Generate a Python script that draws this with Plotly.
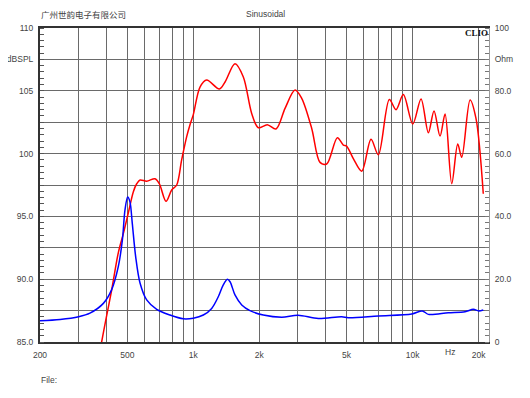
import math
import plotly.graph_objects as go

# ---- data ----
spl_freq = [360, 382, 399, 424, 455, 480, 505, 533, 552, 572, 613, 669, 700, 751, 797, 840,
            885, 933, 966, 1000, 1073, 1151, 1315, 1396, 1549, 1691, 1846, 1979, 2175, 2384,
            2620, 2910, 3121, 3467, 3783, 4058, 4537, 4832, 5000, 5366, 5862, 6461, 6977,
            7832, 8400, 9072, 10016, 10925, 11795, 12520, 13340, 14060, 15080, 16060, 16750,
            18280, 19450, 21000]
spl_db = [82.6, 85.0, 86.75, 89.1, 92.1, 93.65, 95.25, 96.97, 97.6, 97.9, 97.8, 98.0, 97.6,
          96.2, 97.1, 97.5, 99.5, 101.35, 102.3, 103.1, 105.3, 105.86, 105.14, 105.7, 107.15,
          106.1, 103.2, 102.06, 102.3, 101.96, 103.6, 105.06, 104.4, 102.0, 99.3, 99.17,
          101.27, 100.68, 100.6, 99.6, 98.6, 101.14, 99.9, 104.3, 103.5, 104.7, 102.36,
          104.35, 101.66, 103.4, 101.4, 103.15, 97.6, 100.76, 99.7, 104.27, 102.8, 96.8]

imp_freq = [200, 247, 300, 338, 389, 424, 455, 475, 488, 502, 514, 527, 546, 572, 613, 681,
            783, 900, 1000, 1111, 1213, 1300, 1370, 1430, 1471, 1549, 1663, 1813, 2085, 2530,
            3000, 3717, 4750, 5090, 6977, 9910, 11075, 11795, 14550, 17340, 18920, 20000,
            21000]
imp_ohm = [6.8, 7.2, 8.07, 9.2, 12.3, 16.6, 24.0, 32.5, 42.0, 46.2, 44.7, 37.8, 27.2, 18.7,
           13.4, 10.4, 8.6, 7.4, 7.6, 8.6, 10.7, 14.4, 18.2, 20.0, 19.2, 15.0, 11.8, 10.0,
           8.6, 7.9, 8.5, 7.5, 8.07, 7.75, 8.3, 8.9, 9.9, 8.8, 9.3, 9.65, 10.4, 9.9, 10.2]

x_grid = [200, 300, 400, 500, 600, 700, 800, 900, 1000, 2000, 3000, 4000, 5000, 6000, 7000,
          8000, 9000, 10000, 20000]
x_labels = ["200", "", "", "500", "", "", "", "", "1k", "2k", "", "", "5k", "", "", "", "",
            "10k", "20k"]
left_vals = [85, 87.5, 90, 92.5, 95, 97.5, 100, 102.5, 105, 107.5, 110]
left_labels = ["85.0", "", "90.0", "", "95.0", "", "100", "", "105", "dBSPL", "110"]
right_vals = [0, 10, 20, 30, 40, 50, 60, 70, 80, 90, 100]
right_labels = ["0", "", "20.0", "", "40.0", "", "60.0", "", "80.0", "Ohm", "100"]

# ---- layout geometry (page pixels; the page body has an 8px default margin) ----
OFF = 8
W, H = 530 - OFF, 398 - OFF
L, R, T, B = 40, 489, 28, 342          # plot area in page coordinates
PW, PH = R - L, B - T


def px(x):
    return (x - L) / PW


def py(y):
    return (B - y) / PH


txt = "#444444"
FONT = "Liberation Sans"

fig = go.Figure()
fig.add_trace(go.Scatter(x=spl_freq, y=spl_db, mode="lines",
                         line=dict(color="#ff0000", width=1.5, shape="spline", smoothing=0.9),
                         yaxis="y", showlegend=False, hoverinfo="skip"))
fig.add_trace(go.Scatter(x=imp_freq, y=imp_ohm, mode="lines",
                         line=dict(color="#0000ff", width=1.5, shape="spline", smoothing=0.9),
                         yaxis="y2", showlegend=False, hoverinfo="skip"))

fig.update_layout(
    template="none",
    width=W, height=H,
    margin=dict(l=L - OFF, r=W - (R - OFF), t=T - OFF, b=H - (B - OFF), pad=0,
                autoexpand=False),
    paper_bgcolor="white", plot_bgcolor="white",
    font=dict(family=FONT, size=8.5, color=txt),
    xaxis=dict(type="log", range=[math.log10(200), math.log10(22300)], automargin=False,
               tickmode="array", tickvals=x_grid, ticktext=x_labels,
               showgrid=True, gridcolor="#6a6a6a", gridwidth=1,
               showline=True, linecolor="#333333", linewidth=2, mirror=True,
               ticks="", ticklabelstandoff=4, zeroline=False,
               tickfont=dict(family=FONT, size=8.5, color=txt)),
    yaxis=dict(range=[85, 110], automargin=False, tickmode="array", tickvals=left_vals,
               ticktext=left_labels,
               showgrid=True, gridcolor="#6a6a6a", gridwidth=1,
               showline=True, linecolor="#333333", linewidth=2,
               ticks="", ticklabelstandoff=3, zeroline=False,
               minor=dict(ticks="inside", dtick=0.5, tick0=85, ticklen=4,
                          tickcolor="#555555", showgrid=False),
               tickfont=dict(family=FONT, size=8.5, color=txt)),
    yaxis2=dict(range=[0, 100], overlaying="y", side="right", anchor="x", automargin=False,
                tickmode="array", tickvals=right_vals, ticktext=right_labels,
                showgrid=False, showline=True, linecolor="#9a9a9a", linewidth=1,
                ticks="", ticklabelstandoff=3, zeroline=False,
                minor=dict(ticks="inside", dtick=2, tick0=0, ticklen=4,
                           tickcolor="#777777", showgrid=False),
                tickfont=dict(family=FONT, size=8.5, color=txt)),
)

annots = [
    dict(text="广州世韵电子有限公司", x=px(40), y=py(14), xanchor="left", yanchor="middle",
         font=dict(family="Noto Sans CJK SC", size=8.5, color=txt)),
    dict(text="Sinusoidal", x=px(265.5), y=py(14), xanchor="center", yanchor="middle",
         font=dict(family=FONT, size=8.5, color=txt)),
    dict(text="<b>CLIO</b>", x=px(489), y=py(32.5), xanchor="right", yanchor="middle",
         font=dict(family="Liberation Serif", size=9, color="#111111")),
    dict(text="Hz", x=px(449.5), y=py(352), xanchor="center", yanchor="middle",
         font=dict(family=FONT, size=8.5, color=txt)),
    dict(text="File:", x=px(40), y=py(380), xanchor="left", yanchor="middle",
         font=dict(family=FONT, size=8.5, color=txt)),
]
for a in annots:
    fig.add_annotation(xref="paper", yref="paper", showarrow=False, borderpad=0, **a)

fig.write_html("out.html")
